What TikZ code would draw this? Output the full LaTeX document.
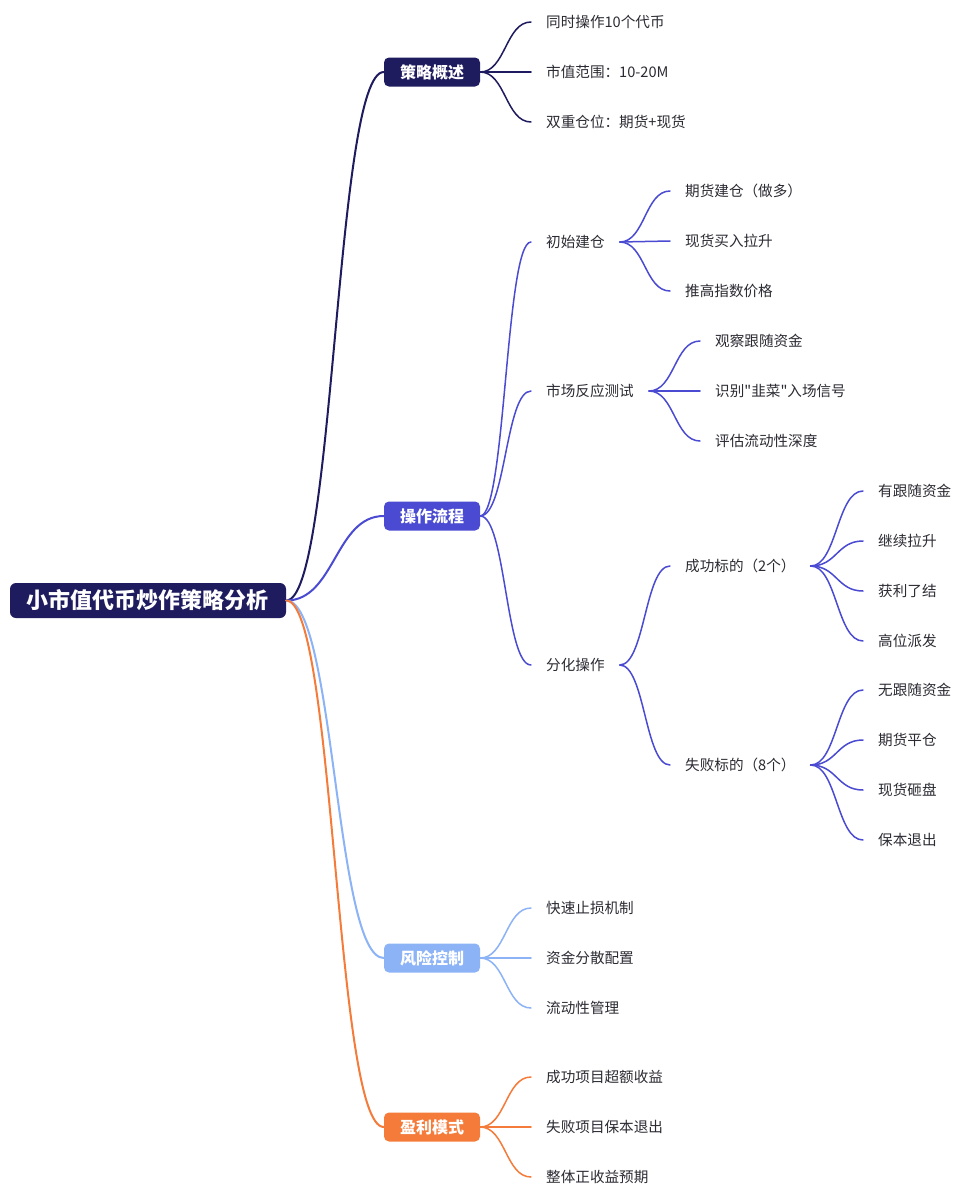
\documentclass[tikz,border=0pt]{standalone}
\usepackage{fontspec}
\newfontfamily\cjkfont{Noto Sans CJK SC}
\usetikzlibrary{calc}
\definecolor{navy}{HTML}{1E1B5E}
\definecolor{indigo}{HTML}{4A4BD2}
\definecolor{skyb}{HTML}{8DB3F7}
\definecolor{orng}{HTML}{F57B3A}
\definecolor{txt}{HTML}{2B2B33}
\newcommand{\mmlink}[3]{\draw[#3] let \p1=(#1.east), \p2=(#2.west) in (\p1) .. controls ({(\x1+\x2)/2},\y1) and ({(\x1+\x2)/2},\y2) .. (\p2);}
\begin{document}
\begin{tikzpicture}[x=1pt,y=-1pt,
  rootbox/.style={fill=navy, rounded corners=6pt, text=white, font=\cjkfont\bfseries\fontsize{22}{26}\selectfont, minimum width=276pt, minimum height=35pt, inner sep=0pt},
  lvone/.style={fill=#1, rounded corners=5pt, text=white, font=\cjkfont\bfseries\fontsize{16}{19}\selectfont, minimum width=96pt, minimum height=29pt, inner sep=0pt},
  leaf/.style={text=txt, font=\cjkfont\fontsize{14.6}{17}\selectfont, inner xsep=15pt, inner ysep=2pt, anchor=west},
  thick1/.style={line width=2pt, line cap=round, draw=#1},
  thin1/.style={line width=1.5pt, line cap=round, draw=#1}]
\useasboundingbox (0,0) rectangle (977,1200);
\fill[white] (0,0) rectangle (977,1200);

% root
\node[rootbox] (root) at (148,600.5) {小市值代币炒作策略分析};

% level one
\node[lvone=navy] (a) at (432,72) {策略概述};
\node[lvone=indigo] (b) at (432,516) {操作流程};
\node[lvone=skyb] (c) at (432,958) {风险控制};
\node[lvone=orng] (d) at (432,1127) {盈利模式};

% branch a
\node[leaf] (a1) at (531,22) {同时操作10个代币};
\node[leaf] (a2) at (531,72) {市值范围：10-20M};
\node[leaf] (a3) at (531,122) {双重仓位：期货+现货};

% branch b
\node[leaf] (b1) at (531,242) {初始建仓};
\node[leaf] (b2) at (531,391) {市场反应测试};
\node[leaf] (b3) at (531,665) {分化操作};
\node[leaf] (b11) at (670,191) {期货建仓（做多）};
\node[leaf] (b12) at (670,241) {现货买入拉升};
\node[leaf] (b13) at (670,291) {推高指数价格};
\node[leaf] (b21) at (700,341) {观察跟随资金};
\node[leaf] (b22) at (700,391) {识别"韭菜"入场信号};
\node[leaf] (b23) at (700,441) {评估流动性深度};
\node[leaf] (b31) at (670,566) {成功标的（2个）};
\node[leaf] (b32) at (670,765) {失败标的（8个）};
\node[leaf] (s1) at (863,491) {有跟随资金};
\node[leaf] (s2) at (863,541) {继续拉升};
\node[leaf] (s3) at (863,591) {获利了结};
\node[leaf] (s4) at (863,641) {高位派发};
\node[leaf] (f1) at (863,690) {无跟随资金};
\node[leaf] (f2) at (863,740) {期货平仓};
\node[leaf] (f3) at (863,790) {现货砸盘};
\node[leaf] (f4) at (863,840) {保本退出};

% branch c
\node[leaf] (c1) at (531,908) {快速止损机制};
\node[leaf] (c2) at (531,958) {资金分散配置};
\node[leaf] (c3) at (531,1008) {流动性管理};

% branch d
\node[leaf] (d1) at (531,1077) {成功项目超额收益};
\node[leaf] (d2) at (531,1127) {失败项目保本退出};
\node[leaf] (d3) at (531,1177) {整体正收益预期};

% connectors
\mmlink{root}{a}{thick1=navy}
\mmlink{root}{b}{thick1=indigo}
\mmlink{root}{c}{thick1=skyb}
\mmlink{root}{d}{thick1=orng}

\foreach \k in {a1,a2,a3}{\mmlink{a}{\k}{thin1=navy}}
\foreach \k in {b1,b2,b3}{\mmlink{b}{\k}{thin1=indigo}}
\foreach \k in {b11,b12,b13}{\mmlink{b1}{\k}{thin1=indigo}}
\foreach \k in {b21,b22,b23}{\mmlink{b2}{\k}{thin1=indigo}}
\foreach \k in {b31,b32}{\mmlink{b3}{\k}{thin1=indigo}}
\foreach \k in {s1,s2,s3,s4}{\mmlink{b31}{\k}{thin1=indigo}}
\foreach \k in {f1,f2,f3,f4}{\mmlink{b32}{\k}{thin1=indigo}}
\foreach \k in {c1,c2,c3}{\mmlink{c}{\k}{thin1=skyb}}
\foreach \k in {d1,d2,d3}{\mmlink{d}{\k}{thin1=orng}}
\end{tikzpicture}
\end{document}
